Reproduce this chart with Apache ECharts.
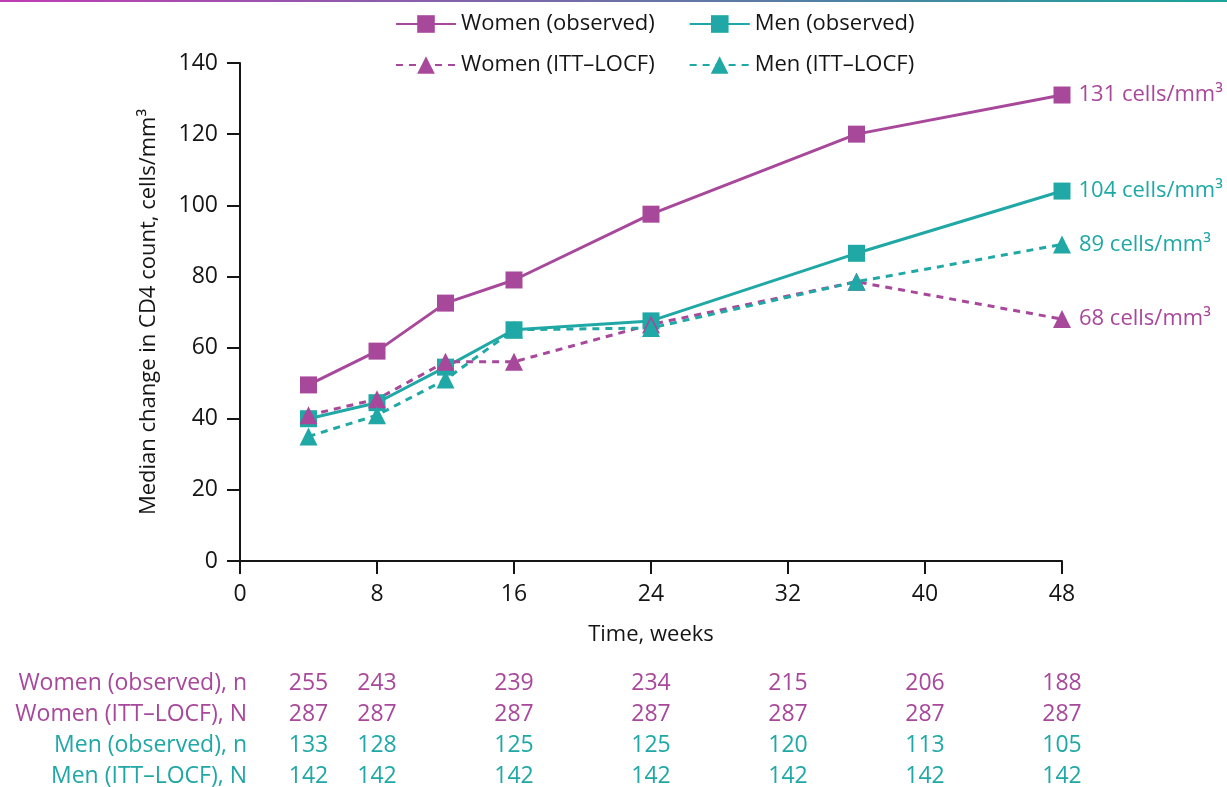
<!DOCTYPE html>
<html>
<head>
<meta charset="utf-8">
<script src="https://cdn.jsdelivr.net/npm/echarts@6/dist/echarts.min.js"></script>
<style>
  html, body { margin: 0; padding: 0; background: #fff; }
  #chart { width: 1227px; height: 787px; }
</style>
</head>
<body>
<div id="chart"></div>
<script>
// Median change in CD4 count by sex over 48 weeks
const weeks = [4, 8, 12, 16, 24, 36, 48];
const womenObserved = [49.5, 59, 72.5, 79, 97.5, 120, 131];
const menObserved = [40, 44.5, 54.5, 65, 67.5, 86.5, 104];
const womenITT = [41, 45.5, 56, 56, 66.5, 78.5, 68];
const menITT = [35, 41, 51, 65, 65.5, 78.5, 89];

const endLabels = ['131 cells/mm³', '104 cells/mm³', '68 cells/mm³', '89 cells/mm³'];

// Number-at-risk table below the axis
const tableWeeks = [4, 8, 16, 24, 32, 40, 48];
const tableRows = ['Women (observed), n', 'Women (ITT\u2013LOCF), N', 'Men (observed), n', 'Men (ITT\u2013LOCF), N'];
const tableWomenObs = [255, 243, 239, 234, 215, 206, 188];
const tableWomenITT = [287, 287, 287, 287, 287, 287, 287];
const tableMenObs = [133, 128, 125, 125, 120, 113, 105];
const tableMenITT = [142, 142, 142, 142, 142, 142, 142];

const PURPLE = '#a8489b';
const TEAL = '#1fa8a5';
const FONT = 'Open Sans';
const INK = '#151515';

function pairs(vals) { return weeks.map((w, i) => [w, vals[i]]); }

function makeSeries(name, vals, color, dashed, symbol, label) {
  const data = pairs(vals);
  const last = data.length - 1;
  data[last] = {
    value: data[last],
    label: {
      show: true, position: 'right', distance: 8,
      formatter: label, color: color, fontFamily: FONT, fontSize: 22
    }
  };
  return {
    name, type: 'line', data,
    symbol, symbolSize: symbol === 'rect' ? 17 : 18,
    lineStyle: { color, width: 3, type: dashed ? [7, 6] : 'solid' },
    itemStyle: { color },
    label: { show: false },
    animation: false,
    z: 3
  };
}

const chart = echarts.init(document.getElementById('chart'), null, { renderer: 'canvas' });

const legendText = { fontFamily: FONT, fontSize: 22, color: INK };

chart.setOption({
  backgroundColor: '#fff',
  textStyle: { fontFamily: FONT },
  grid: { left: 240, right: 165, top: 63, bottom: 226 },
  legend: [
    {
      data: ['Women (observed)', 'Men (observed)'],
      left: 390, top: 8, itemWidth: 60, itemHeight: 22, itemGap: 34,
      textStyle: legendText
    },
    {
      data: ['Women (ITT\u2013LOCF)', 'Men (ITT\u2013LOCF)'],
      left: 390, top: 49, itemWidth: 60, itemHeight: 22, itemGap: 34,
      textStyle: legendText
    }
  ],
  xAxis: {
    type: 'value', min: 0, max: 48, interval: 8,
    name: 'Time, weeks', nameLocation: 'middle', nameGap: 63,
    nameTextStyle: { fontFamily: FONT, fontSize: 22, color: INK },
    axisLine: { show: true, onZero: false, lineStyle: { color: INK, width: 2 } },
    axisTick: { show: true, length: 13, lineStyle: { color: INK, width: 2 } },
    axisLabel: { fontFamily: FONT, fontSize: 23, color: INK, margin: 22 },
    splitLine: { show: false }
  },
  yAxis: {
    type: 'value', min: 0, max: 140, interval: 20,
    name: 'Median change in CD4 count, cells/mm³', nameLocation: 'middle', nameGap: 80,
    nameTextStyle: { fontFamily: FONT, fontSize: 22, color: INK },
    axisLine: { show: true, lineStyle: { color: INK, width: 2 } },
    axisTick: { show: true, length: 13, lineStyle: { color: INK, width: 2 } },
    axisLabel: { fontFamily: FONT, fontSize: 23, color: INK, margin: 22 },
    splitLine: { show: false }
  },
  series: [
    makeSeries('Women (observed)', womenObserved, PURPLE, false, 'rect', endLabels[0]),
    makeSeries('Men (observed)', menObserved, TEAL, false, 'rect', endLabels[1]),
    makeSeries('Women (ITT\u2013LOCF)', womenITT, PURPLE, true, 'triangle', endLabels[2]),
    makeSeries('Men (ITT\u2013LOCF)', menITT, TEAL, true, 'triangle', endLabels[3])
  ]
});

// Gradient rule along the top edge and the number-at-risk table
const tableData = [tableWomenObs, tableWomenITT, tableMenObs, tableMenITT];
const rowColors = [PURPLE, PURPLE, TEAL, TEAL];
const rowY = [683, 714, 745, 776];
const elements = [{
  type: 'rect', left: 0, top: 0,
  shape: { width: 1227, height: 2 },
  style: {
    fill: new echarts.graphic.LinearGradient(0, 0, 1, 0, [
      { offset: 0, color: '#c03cb4' }, { offset: 1, color: '#1aa39a' }
    ])
  },
  silent: true
}];
tableRows.forEach((name, r) => {
  elements.push({
    type: 'text', x: 247, y: rowY[r],
    style: {
      text: name, fill: rowColors[r], font: '23px "' + FONT + '"',
      align: 'right', verticalAlign: 'middle'
    },
    silent: true
  });
  tableData[r].forEach((v, i) => {
    const px = chart.convertToPixel({ xAxisIndex: 0 }, tableWeeks[i]);
    elements.push({
      type: 'text', x: px, y: rowY[r],
      style: {
        text: String(v), fill: rowColors[r], font: '23px "' + FONT + '"',
        align: 'center', verticalAlign: 'middle'
      },
      silent: true
    });
  });
});
chart.setOption({ graphic: { elements } });
</script>
</body>
</html>
